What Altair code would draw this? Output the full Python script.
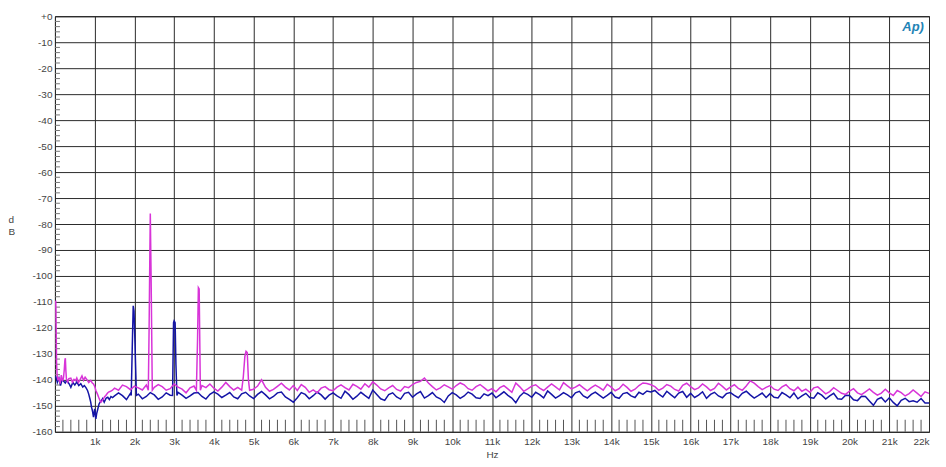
import altair as alt
import pandas as pd

# ---------------- data ----------------
# Blue trace, low-frequency part (Hz, dB)
blue_low_f = [20, 60, 100, 140, 180, 220, 260, 300, 360, 400,
              450, 500, 550, 600, 650, 700, 740, 780, 820, 850,
              880, 900, 920, 945, 970, 1000, 1030, 1050, 1070, 1090,
              1110, 1140, 1170, 1200, 1240, 1290, 1330, 1370, 1410, 1450]
blue_low_db = [-138.5, -141.0, -139.3, -142.2, -139.8, -140.5, -141.2, -140.2, -141.6, -142.9,
               -141.0, -142.0, -140.8, -142.2, -141.5, -142.8, -142.2, -143.0, -144.1, -145.5,
               -147.3, -148.6, -150.5, -152.0, -154.4, -151.2, -155.0, -153.0, -151.8, -150.5,
               -149.3, -148.5, -148.0, -147.2, -148.6, -147.0, -146.7, -147.6, -146.4, -146.8]

# Blue noise floor, 1.5 kHz .. 22 kHz in 100 Hz bins (one row per kHz)
blue_floor_db = [
    -146.2, -145.0, -146.1, -147.6, -145.2,
    -146.0, -145.5, -147.3, -146.4, -144.9, -145.8, -147.5, -146.6, -145.0, -145.9,
    -146.0, -144.8, -145.9, -147.1, -146.2, -145.1, -144.9, -146.4, -147.4, -145.6,
    -144.6, -145.5, -146.8, -145.9, -144.9, -146.6, -147.3, -145.4, -144.8, -146.2,
    -147.2, -145.6, -144.5, -145.8, -147.3, -146.4, -145.0, -144.7, -146.6, -147.5,
    -148.6, -146.9, -144.9, -145.6, -147.3, -146.1, -144.7, -145.8, -147.4, -145.9,
    -145.0, -146.2, -147.1, -144.4, -145.7, -147.5, -146.3, -144.8, -146.0, -147.1,
    -143.9, -145.6, -147.3, -147.9, -145.7, -145.0, -146.6, -147.4, -145.2, -144.8,
    -146.7, -145.4, -144.5, -147.0, -146.1, -144.9, -146.6, -147.3, -148.7, -146.2,
    -144.9, -145.8, -147.1, -146.2, -144.7, -145.5, -146.9, -147.2, -145.4, -146.1,
    -145.1, -146.9, -145.8, -144.6, -146.0, -147.0, -148.8, -146.3, -144.9, -145.6,
    -146.7, -144.8, -145.7, -146.9, -144.3, -145.6, -147.0, -146.1, -144.9, -145.8,
    -146.9, -145.0, -144.4, -146.2, -147.0, -145.6, -144.7, -145.9, -147.0, -146.0,
    -144.8, -146.6, -147.1, -145.3, -144.9, -146.2, -146.8, -144.8, -145.6, -144.3,
    -144.7, -144.1, -145.5, -146.6, -144.4, -145.7, -146.9, -145.1, -144.5, -146.7,
    -145.2, -146.8, -145.9, -144.6, -147.1, -145.6, -144.8, -146.2, -146.9, -145.3,
    -144.9, -146.0, -146.9, -145.2, -144.4, -145.8, -147.0, -146.1, -145.1, -146.8,
    -145.3, -146.7, -147.0, -144.9, -145.8, -146.9, -145.1, -147.3, -146.2, -145.2,
    -146.8, -147.1, -145.0, -145.9, -147.4, -146.2, -145.2, -147.3, -147.5, -145.9,
    -146.0, -147.7, -148.0, -146.3, -146.4, -148.1, -149.8, -147.5, -146.8, -148.5,
    -146.9, -148.7, -150.0, -147.9, -147.1, -148.4, -148.1, -148.6, -147.2, -148.9,
    -148.9,
]

# Blue harmonic peaks (Hz, dB)
blue_peak1_f = [1920, 1945, 1970, 1990, 2015, 2050]
blue_peak1_db = [-146.0, -128.0, -111.5, -113.5, -126.0, -146.0]
blue_peak2_f = [2960, 2985, 3000, 3025, 3045, 3070]
blue_peak2_db = [-146.0, -118.0, -117.3, -118.0, -134.0, -146.0]

# Magenta trace, low-frequency part
mag_low_f = [20, 25, 32, 40, 55, 75, 100, 130, 160, 190,
             215, 235, 250, 262, 275, 290, 320, 350, 400, 440,
             480, 520, 550, 590, 630, 680, 720, 760, 800, 850,
             900, 940, 970, 1000, 1030, 1070, 1100, 1130, 1160, 1190,
             1220, 1250, 1280, 1320, 1350, 1400, 1440]
mag_low_db = [-109.5, -113.0, -122.0, -133.0, -138.5, -140.2, -139.0, -141.5, -138.2, -140.5,
              -139.2, -136.0, -132.5, -131.7, -136.5, -139.8, -140.8, -139.5, -139.3, -140.9,
              -139.8, -140.3, -139.3, -141.0, -140.0, -138.5, -140.2, -139.0, -139.8, -141.0,
              -140.2, -141.2, -141.6, -142.5, -144.1, -145.5, -146.7, -147.8, -148.6, -148.0,
              -147.3, -146.5, -146.0, -145.2, -144.7, -144.4, -144.1]

# Magenta noise floor, 1.5 kHz .. 22 kHz in 100 Hz bins (one row per kHz)
mag_floor_db = [
    -143.2, -144.0, -142.0, -142.6, -143.8,
    -142.4, -143.1, -143.9, -142.0, -143.5, -142.9, -141.8, -142.6, -144.0, -143.4,
    -141.6, -142.8, -143.6, -145.0, -143.1, -142.4, -143.5, -142.2, -143.0, -141.6,
    -143.2, -144.3, -142.8, -141.0, -142.6, -143.9, -142.9, -143.5, -143.5, -143.5,
    -143.6, -142.4, -140.0, -142.9, -144.4, -143.7, -142.5, -141.3, -142.8, -143.9,
    -142.2, -144.1, -141.8, -142.9, -144.8, -143.9, -145.0, -143.2, -142.6, -143.8,
    -144.2, -142.8, -141.9, -143.0, -143.9, -141.7, -142.5, -143.6, -141.5, -142.8,
    -140.8, -142.0, -143.5, -144.2, -143.1, -142.2, -143.7, -144.3, -142.6, -143.0,
    -141.8, -141.0, -140.6, -139.3, -141.2, -142.6, -143.9, -143.1, -141.9, -142.7,
    -143.6, -142.2, -141.2, -141.9, -143.4, -144.0, -142.6, -141.8, -143.0, -144.2,
    -143.4, -144.6, -143.0, -142.2, -143.5, -144.8, -141.2, -142.7, -144.4, -143.5,
    -142.4, -141.9, -143.2, -144.1, -142.8, -141.6, -142.7, -143.9, -141.1, -142.3,
    -143.5, -142.8, -141.9, -143.1, -144.2, -143.0, -142.0, -142.9, -144.0, -141.7,
    -142.8, -144.2, -143.4, -141.7, -142.9, -144.4, -143.6, -142.2, -141.2, -141.4,
    -141.9, -142.6, -144.0, -143.2, -141.8, -142.4, -143.7, -144.3, -142.1, -141.3,
    -142.6, -143.8, -143.1, -141.6, -142.7, -144.1, -143.3, -141.3, -142.5, -143.9,
    -142.8, -141.9, -143.3, -144.0, -142.4, -140.4, -141.3, -142.6, -143.8, -142.9,
    -142.2, -143.6, -144.1, -142.7, -141.9, -143.4, -144.2, -142.8, -144.4, -143.6,
    -144.8, -143.1, -142.7, -144.0, -145.4, -144.5, -143.0, -144.1, -145.2, -145.6,
    -144.3, -143.4, -145.0, -145.7, -144.6, -143.5, -144.8, -145.9, -145.1, -143.6,
    -145.0, -146.0, -144.1, -144.9, -146.2, -145.3, -143.9, -145.1, -146.4, -144.6,
    -145.2,
]

# Magenta harmonic peaks
mag_peak1_f = [2350, 2370, 2385, 2400, 2420, 2450]
mag_peak1_db = [-144.0, -120.0, -97.0, -76.0, -100.0, -144.0]
mag_peak2_f = [3560, 3590, 3610, 3630, 3660]
mag_peak2_db = [-144.0, -124.0, -104.5, -105.0, -144.0]
mag_peak3_f = [4700, 4740, 4780, 4810, 4840, 4870, 4900]
mag_peak3_db = [-144.0, -139.0, -131.0, -129.0, -129.5, -140.0, -144.0]

floor_bins = list(range(1500, 22001, 100))
assert len(floor_bins) == len(blue_floor_db) == len(mag_floor_db)

x_major = list(range(0, 22001, 1000))
y_major = list(range(-160, 1, 10))
x_minor = [f for f in range(200, 22000, 200) if f % 1000 != 0]
y_minor = [v for v in range(-158, 0, 2) if v % 10 != 0]

BLUE = "#1414a6"
MAGENTA = "#d834d8"


def build(low_f, low_db, floor_db, peaks):
    pts = list(zip(low_f, low_db))
    for f, v in zip(floor_bins, floor_db):
        if not any(pf[0] <= f <= pf[-1] for pf, _ in peaks):
            pts.append((f, v))
    for pf, pdb in peaks:
        pts += list(zip(pf, pdb))
    pts.sort()
    return pd.DataFrame(pts, columns=["f", "db"])


blue_df = build(blue_low_f, blue_low_db, blue_floor_db,
                [(blue_peak1_f, blue_peak1_db), (blue_peak2_f, blue_peak2_db)])
mag_df = build(mag_low_f, mag_low_db, mag_floor_db,
               [(mag_peak1_f, mag_peak1_db), (mag_peak2_f, mag_peak2_db),
                (mag_peak3_f, mag_peak3_db)])

xs = alt.Scale(domain=[0, 22000], nice=False, zero=False)
ys = alt.Scale(domain=[-160, 0], nice=False, zero=False)

FONT = "Liberation Sans"
TXT = "#444444"
GRID = "#2b2b2b"

x_axis = alt.Axis(
    values=x_major, labelExpr="datum.value == 0 ? '' : datum.value / 1000 + 'k'",
    grid=True, gridColor=GRID, gridWidth=1, gridOpacity=1,
    ticks=False, domain=False, labelFont=FONT, labelFontSize=10, labelColor=TXT,
    labelPadding=5, labelFlush=True, labelFlushOffset=0,
    title="Hz", titleFont=FONT, titleFontSize=10, titleFontWeight="normal",
    titleColor=TXT, titlePadding=3,
)
y_axis = alt.Axis(
    values=y_major, labelExpr="datum.value == 0 ? '+0' : datum.value",
    grid=True, gridColor=GRID, gridWidth=1, gridOpacity=1,
    ticks=False, domain=False, labelFont=FONT, labelFontSize=10, labelColor=TXT,
    labelPadding=3, labelFlush=False,
    title=["d", "B"], titleFont=FONT, titleFontSize=10, titleFontWeight="normal",
    titleColor=TXT, titleAngle=0, titleAlign="left", titleBaseline="top",
    titleX=-47, titleY=198, titleLineHeight=13,
)

X = alt.X("f:Q", scale=xs, axis=x_axis)
Y = alt.Y("db:Q", scale=ys, axis=y_axis)

# minor ticks along bottom edge
xminor_df = pd.DataFrame({"f": x_minor, "db": [-160] * len(x_minor)})
xminor = alt.Chart(xminor_df).mark_tick(
    orient="vertical", size=12, thickness=1, yOffset=-6, color="#555555", opacity=1
).encode(x=X, y=Y)

# minor ticks along left edge
yminor_df = pd.DataFrame({"f": [0] * len(y_minor), "db": y_minor})
yminor = alt.Chart(yminor_df).mark_tick(
    orient="horizontal", size=5, thickness=1, xOffset=2.5, color="#777777", opacity=1
).encode(x=X, y=Y)

blue_line = alt.Chart(blue_df).mark_line(color=BLUE, strokeWidth=1.5, clip=True).encode(x=X, y=Y)
mag_line = alt.Chart(mag_df).mark_line(color=MAGENTA, strokeWidth=1.5, clip=True).encode(x=X, y=Y)

logo_df = pd.DataFrame({"f": [21600], "db": [-4], "t": ["Ap)"]})
logo = alt.Chart(logo_df).mark_text(
    font=FONT, fontSize=13, fontStyle="italic", fontWeight="bold", color="#1f84b6"
).encode(x=X, y=Y, text="t:N")

chart = alt.layer(
    xminor, yminor, blue_line, mag_line, logo,
).properties(
    width=875, height=416,
    autosize=alt.AutoSizeParams(type="none"),
    padding={"left": 47, "top": 8, "right": 9, "bottom": 28},
    background="white",
).configure_view(stroke="#000000", strokeWidth=1)

chart.save("out.html", embed_options={"renderer": "svg", "actions": False})
